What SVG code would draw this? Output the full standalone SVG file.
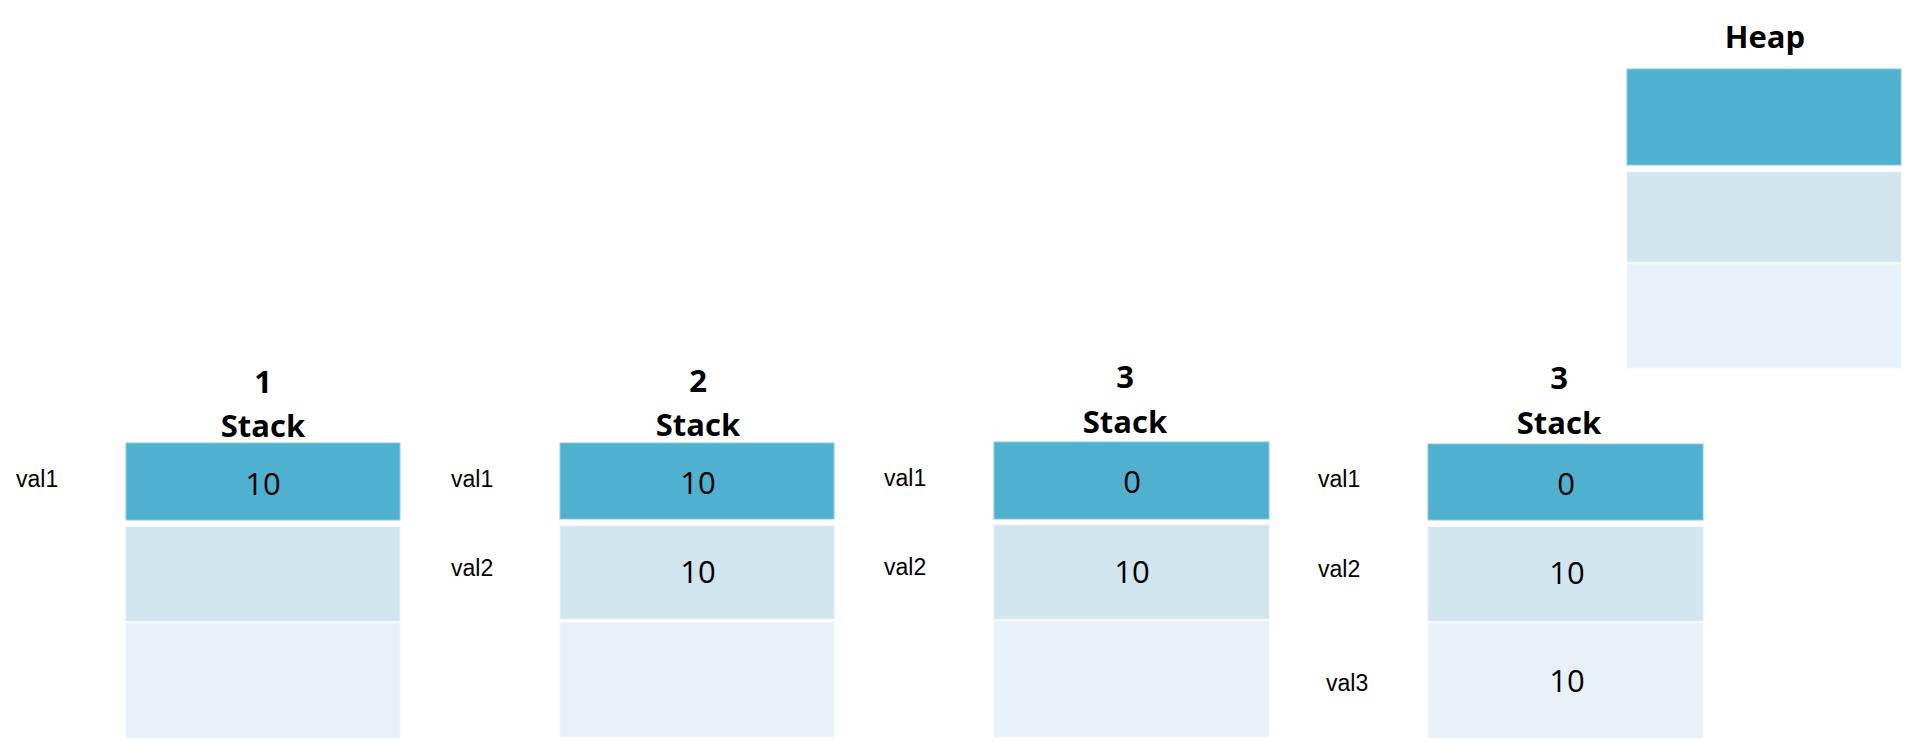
<svg xmlns="http://www.w3.org/2000/svg" width="1907" height="742" viewBox="0 0 1907 742">
<style>
.c1{fill:#4FB1CF;stroke:#8ACBE0;stroke-width:1}
.c2{fill:#D1E5EE;stroke:#E3EFF5;stroke-width:1}
.c3{fill:#E8F1F7;stroke:#F1F6FA;stroke-width:1}
.t{font-family:"Open Sans","Noto Sans","DejaVu Sans",sans-serif;font-weight:bold;font-size:31px;fill:#000;text-anchor:middle}
.v{font-family:"Open Sans","Noto Sans","DejaVu Sans",sans-serif;font-size:31px;fill:#000;text-anchor:middle}
.l{font-family:"Liberation Sans",Arial,sans-serif;font-size:23px;fill:#000}
</style>
<rect width="1907" height="742" fill="#fff"/>
<g id="heap">
<text class="t" x="1765" y="48">Heap</text>
<rect class="c1" x="1627" y="69" width="274" height="96"/>
<rect class="c2" x="1627" y="172" width="274" height="90"/>
<rect class="c3" x="1627" y="264" width="274" height="104"/>
</g>
<g id="stack1">
<text class="t" x="263" y="393">1</text>
<text class="t" x="263" y="437">Stack</text>
<rect class="c1" x="126" y="443" width="274" height="77"/>
<rect class="c2" x="126" y="527" width="274" height="94"/>
<rect class="c3" x="126" y="623" width="274" height="115"/>
<text class="v" x="263" y="495">10</text>
<text class="l" x="16" y="487">val1</text>
</g>
<g id="stack2">
<text class="t" x="698" y="392">2</text>
<text class="t" x="698" y="436">Stack</text>
<rect class="c1" x="560" y="443" width="274" height="76"/>
<rect class="c2" x="560" y="526" width="274" height="93"/>
<rect class="c3" x="560" y="622" width="274" height="115"/>
<text class="v" x="698" y="494">10</text>
<text class="v" x="698" y="583">10</text>
<text class="l" x="451" y="487">val1</text>
<text class="l" x="451" y="576">val2</text>
</g>
<g id="stack3">
<text class="t" x="1125" y="388">3</text>
<text class="t" x="1125" y="433">Stack</text>
<rect class="c1" x="994" y="442" width="275" height="77"/>
<rect class="c2" x="994" y="525" width="275" height="94"/>
<rect class="c3" x="994" y="621" width="275" height="116"/>
<text class="v" x="1132" y="493">0</text>
<text class="v" x="1132" y="583">10</text>
<text class="l" x="884" y="486">val1</text>
<text class="l" x="884" y="575">val2</text>
</g>
<g id="stack4">
<text class="t" x="1559" y="389">3</text>
<text class="t" x="1559" y="434">Stack</text>
<rect class="c1" x="1428" y="444" width="275" height="76"/>
<rect class="c2" x="1428" y="527" width="275" height="94"/>
<rect class="c3" x="1428" y="623" width="275" height="115"/>
<text class="v" x="1566" y="495">0</text>
<text class="v" x="1567" y="584">10</text>
<text class="v" x="1567" y="692">10</text>
<text class="l" x="1318" y="487">val1</text>
<text class="l" x="1318" y="577">val2</text>
<text class="l" x="1326" y="691">val3</text>
</g>
<g id="connectors"></g>
</svg>
